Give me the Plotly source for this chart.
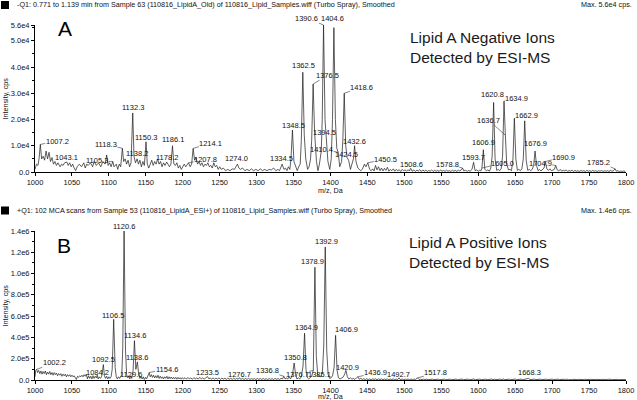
import plotly.graph_objects as go

# ---------------- DATA ----------------
# Panel A (negative ions): profile points (m/z, intensity in 1e4 cps)
a_profile = [
(1000,0.1),(1002,0.3),(1004,0.25),(1005.5,0.5),(1007.2,1.05),(1009,0.5),(1011,0.6),(1013,0.45),(1015,0.8),(1017,0.5),
(1019,0.75),(1021,0.4),(1023,0.55),(1025,0.3),(1027,0.4),(1029,0.25),(1031,0.35),(1034,0.2),(1036,0.3),(1038,0.25),
(1040,0.35),(1043.1,0.38),(1045,0.25),(1047,0.35),(1049,0.2),(1051,0.3),(1053,0.15),(1055,0.05),(1057,0.2),(1060,0.3),
(1063,0.2),(1066,0.35),(1068,0.15),(1070,0.3),(1072,0.25),(1075,0.35),(1078,0.2),(1080,0.4),(1083,0.25),(1086,0.35),
(1089,0.2),(1092,0.4),(1095,0.3),(1097,0.65),(1099,0.25),(1101,0.35),(1103,0.2),(1105.3,0.4),(1107,0.2),(1110,0.3),
(1112,0.1),(1114,0.3),(1116,0.2),(1118.3,0.9),(1120,0.4),(1122,0.5),(1124,0.3),(1126,0.45),(1128,0.2),(1130,0.35),
(1132.3,2.25),(1134,0.6),(1136,0.35),(1138.2,0.5),(1140,0.3),(1142,0.45),(1144,0.2),(1146,0.4),(1148,0.25),(1150.3,1.15),
(1152,0.3),(1154,0.15),(1156,0.3),(1158,0.45),(1160,0.25),(1162,0.4),(1164,0.3),(1166,0.5),(1168,0.3),(1170,0.4),
(1172,0.2),(1174,0.35),(1176,0.25),(1178.2,0.38),(1180,0.3),(1182,0.2),(1184,0.3),(1186.1,1.0),(1188,0.3),(1190,0.25),
(1192,0.35),(1194,0.15),(1196,0.25),(1198,0.1),(1200,0.2),(1202,0.3),(1204,0.2),(1206,0.3),(1207.8,0.35),(1210,0.2),
(1212,0.3),(1214.1,0.9),(1216,0.45),(1218,0.55),(1220,0.3),(1222,0.4),(1224,0.25),(1226,0.35),(1228,0.2),(1230,0.3),
(1232,0.25),(1234,0.35),(1236,0.2),(1238,0.25),(1240,0.15),(1242,0.35),(1244,0.2),(1246,0.25),(1248,0.1),(1250,0.2),
(1252,0.1),(1255,0.15),(1258,0.05),(1261,0.1),(1264,0.05),(1267,0.12),(1270,0.1),(1272,0.2),(1274,0.3),(1276,0.15),
(1278,0.1),(1281,0.15),(1284,0.05),(1287,0.1),(1290,0.05),(1293,0.12),(1296,0.05),(1299,0.1),(1302,0.05),(1305,0.12),
(1308,0.05),(1311,0.1),(1314,0.05),(1317,0.1),(1320,0.08),(1323,0.15),(1326,0.05),(1329,0.1),(1331,0.05),(1334.5,0.3),
(1337,0.1),(1339,0.15),(1341,0.05),(1343,0.2),(1345,0.1),(1346.5,0.5),(1348.5,1.6),(1350.5,0.4),(1353,0.2),(1355,0.05),
(1357,0.2),(1359,0.3),(1360.5,1.2),(1362.5,3.8),(1364.5,1.4),(1366.5,0.5),(1369,0.1),(1371,0.2),(1373,0.5),(1374.5,1.2),
(1376.5,3.35),(1378.5,1.5),(1381,0.4),(1383,0.05),(1385,0.3),(1387.5,0.8),(1388.8,2.0),(1390.6,5.6),(1392.6,2.0),(1394.5,1.3),
(1396.5,0.4),(1399,0.1),(1401,0.5),(1402.7,2.0),(1404.6,5.5),(1406.6,2.0),(1408.5,0.9),(1410.4,0.75),(1412.5,0.2),(1415,0.4),
(1416.7,1.2),(1418.6,3.0),(1420.6,1.0),(1422.5,0.55),(1424.5,0.45),(1427,0.1),(1429.5,0.3),(1431,0.5),(1432.6,1.0),(1434.5,0.4),
(1437,0.15),(1439,0.1),(1441,0.05),(1443,0.1),(1446,0.3),(1448,0.2),(1450.5,0.35),(1453,0.1),(1455,0.05),(1457,0.12),
(1459,0.04),(1461,0.25),(1463,0.08),(1465,0.2),(1467,0.05),(1469,0.15),(1471,0.04),(1473,0.14),(1475,0.06),(1477,0.18),
(1479,0.03),(1481,0.1),(1483,0.05),(1485,0.12),(1487,0.03),(1489,0.1),(1491,0.04),(1493,0.09),(1495,0.02),(1497,0.1),
(1499,0.05),(1501,0.08),(1503,0.03),(1505,0.09),(1506.7,0.04),(1508.6,0.14),(1510.5,0.03),(1513,0.08),(1515,0.02),(1517,0.07),
(1519,0.04),(1521,0.09),(1523,0.02),(1525,0.08),(1527,0.03),(1529,0.07),(1531,0.02),(1533,0.06),(1535,0.03),(1537,0.08),
(1539,0.02),(1541,0.07),(1543,0.03),(1545,0.06),(1547,0.02),(1549,0.08),(1551,0.03),(1553,0.06),(1555,0.02),(1557,0.07),
(1559,0.03),(1561,0.05),(1563,0.02),(1565,0.07),(1567,0.03),(1569,0.06),(1571,0.02),(1573,0.07),(1575,0.04),(1577,0.08),
(1578.8,0.15),(1580.5,0.04),(1583,0.07),(1585,0.02),(1587,0.06),(1589,0.03),(1591.5,0.1),(1593.7,0.37),(1595.7,0.05),(1598,0.08),
(1600,0.03),(1602,0.07),(1603.5,0.04),(1605.0,0.15),(1606.9,0.85),(1608.9,0.1),(1611,0.05),(1613,0.08),(1615,0.03),(1617,0.15),
(1618.8,0.6),(1620.8,2.65),(1622.8,0.5),(1625,0.06),(1627,0.1),(1629,0.05),(1631,0.12),(1632.9,0.6),(1634.9,2.7),(1636.7,1.4),
(1638.5,0.3),(1641,0.08),(1643,0.1),(1645,0.05),(1647,0.5),(1648.9,2.05),(1650.9,0.5),(1653,0.06),(1655,0.1),(1657,0.05),
(1659,0.12),(1661,0.5),(1662.9,1.95),(1664.9,0.45),(1667,0.06),(1669,0.1),(1671,0.05),(1673,0.1),(1675,0.25),(1676.9,0.8),
(1678.9,0.25),(1681,0.05),(1683,0.1),(1685,0.04),(1687,0.08),(1689,0.15),(1690.9,0.4),(1692.9,0.12),(1695,0.06),(1697,0.12),
(1699,0.05),(1701,0.08),(1703,0.1),(1704.9,0.25),(1706.9,0.08),(1709,0.04),(1711,0.1),(1713,0.03),(1715,0.07),(1717,0.04),
(1719,0.08),(1721,0.02),(1723,0.06),(1725,0.03),(1727,0.07),(1729,0.02),(1731,0.06),(1733,0.03),(1735,0.05),(1737,0.02),
(1739,0.06),(1741,0.03),(1743,0.05),(1745,0.02),(1747,0.06),(1749,0.03),(1751,0.05),(1753,0.02),(1755,0.06),(1757,0.03),
(1759,0.05),(1761,0.02),(1763,0.05),(1765,0.03),(1767,0.06),(1769,0.02),(1771,0.05),(1773,0.03),(1775,0.05),(1777,0.02),
(1779,0.06),(1781,0.03),(1783,0.05),(1785.2,0.12),(1787,0.03),(1789,0.05),(1791,0.02),(1793,0.04),(1795,0.02),(1797,0.04),
(1799,0.02),
]

# Panel B (positive ions): profile points (m/z, intensity in 1e5 cps)
b_profile = [
(1000,0.3),(1001,0.9),(1002.2,1.0),(1003.5,0.7),(1005,0.9),(1006.5,0.6),(1008,0.85),(1009.5,0.55),(1011,0.8),(1012.5,0.6),
(1014,0.85),(1015.5,0.5),(1017,0.75),(1018.5,0.55),(1020,0.8),(1021.5,0.5),(1023,0.7),(1024.5,0.45),(1026,0.7),(1027.5,0.5),
(1029,0.65),(1030.5,0.4),(1032,0.6),(1033.5,0.45),(1035,0.6),(1036.5,0.35),(1038,0.55),(1039.5,0.4),(1041,0.55),(1042.5,0.3),
(1044,0.5),(1045.5,0.35),(1047,0.5),(1048.5,0.3),(1050,0.45),(1051.5,0.3),(1053,0.4),(1054.5,0.25),(1056,0.05),(1057.5,0.35),
(1059,0.25),(1060.5,0.4),(1062,0.3),(1063.5,0.45),(1065,0.3),(1066.5,0.5),(1068,0.35),(1069.5,0.55),(1071,0.1),(1072.5,0.4),
(1074,0.15),(1075.5,0.35),(1077,0.1),(1078.5,0.4),(1080,0.15),(1081.5,0.35),(1083,0.2),(1084.2,0.45),(1085.5,0.1),(1087,0.3),
(1088.5,0.15),(1090,0.3),(1091,0.6),(1092.5,1.45),(1094,0.4),(1095.5,0.15),(1097,0.35),(1098.5,0.1),(1100,0.3),(1101.5,0.15),
(1103,0.3),(1104.5,1.0),(1106.5,5.7),(1108.5,1.2),(1110,0.3),(1111.5,0.1),(1113,0.3),(1114.5,0.15),(1116,0.3),(1117.5,0.5),
(1118.8,3.0),(1120.6,14.0),(1122.5,2.8),(1124,0.5),(1125.5,0.2),(1127,0.35),(1128.3,0.1),(1129.6,0.4),(1131,0.15),(1132.8,0.9),
(1134.6,3.7),(1136.5,1.0),(1138.6,1.7),(1140.4,0.5),(1142,0.15),(1143.5,0.3),(1145,0.1),(1146.5,0.3),(1148,0.05),(1149.5,0.25),
(1151,0.1),(1152.5,0.4),(1154.6,0.7),(1156,0.3),(1157.5,0.5),(1159,0.25),(1160.5,0.45),(1162,0.2),(1163.5,0.4),(1165,0.2),
(1166.5,0.45),(1168,0.15),(1169.5,0.35),(1171,0.15),(1172.5,0.3),(1174,0.1),(1175.5,0.3),(1177,0.15),(1178.5,0.35),(1180,0.1),
(1181.5,0.3),(1183,0.12),(1184.5,0.28),(1186,0.1),(1187.5,0.25),(1189,0.1),(1190.5,0.25),(1192,0.08),(1193.5,0.25),(1195,0.1),
(1196.5,0.22),(1198,0.08),(1199.5,0.22),(1201,0.1),(1203,0.22),(1205,0.08),(1207,0.24),(1209,0.1),(1211,0.2),(1213,0.07),
(1215,0.22),(1217,0.1),(1219,0.2),(1221,0.08),(1223,0.25),(1225,0.1),(1227,0.2),(1229,0.08),(1231,0.22),(1233.5,0.32),
(1235.5,0.1),(1237,0.2),(1239,0.08),(1241,0.2),(1243,0.07),(1245,0.18),(1247,0.08),(1249,0.2),(1251,0.06),(1253,0.18),
(1255,0.08),(1257,0.16),(1259,0.06),(1261,0.18),(1263,0.07),(1265,0.16),(1267,0.05),(1269,0.17),(1271,0.06),(1273,0.15),
(1275,0.07),(1276.7,0.22),(1278.5,0.06),(1281,0.15),(1283,0.05),(1285,0.14),(1287,0.06),(1289,0.15),(1291,0.05),(1293,0.14),
(1295,0.06),(1297,0.13),(1299,0.05),(1301,0.14),(1303,0.06),(1305,0.13),(1307,0.05),(1309,0.14),(1311,0.06),(1313,0.12),
(1315,0.05),(1317,0.14),(1319,0.06),(1321,0.13),(1323,0.05),(1325,0.15),(1327,0.06),(1329,0.14),(1331,0.05),(1333,0.15),
(1335,0.1),(1336.8,0.35),(1338.5,0.1),(1340.5,0.2),(1342,0.08),(1344,0.3),(1346,0.1),(1348.5,0.5),(1350.8,1.6),(1352.7,0.5),
(1354.5,0.1),(1356.5,0.2),(1358.5,0.1),(1360.5,0.3),(1362.8,1.3),(1364.9,4.4),(1366.8,1.0),(1368.8,0.2),(1370.5,0.1),(1372.5,0.25),
(1374.5,0.35),(1376.7,0.9),(1378.9,10.6),(1380.8,2.2),(1382.8,0.4),(1385.1,0.35),(1387,0.3),(1389,0.7),(1390.9,3.2),(1392.9,12.5),
(1394.9,2.8),(1396.8,0.5),(1398.8,0.15),(1400.8,0.2),(1402.8,0.4),(1404.9,1.2),(1406.9,4.2),(1408.9,0.9),(1410.8,0.2),(1413,0.1),
(1415,0.15),(1416.8,0.25),(1418.9,0.5),(1420.9,0.9),(1422.8,0.3),(1424.8,0.1),(1427,0.2),(1429,0.08),(1431,0.15),(1433,0.06),
(1435,0.2),(1436.9,0.3),(1438.8,0.08),(1441,0.15),(1443,0.05),(1445,0.12),(1447,0.04),(1449,0.12),(1451,0.04),(1453,0.1),
(1455,0.03),(1457,0.11),(1459,0.05),(1461,0.12),(1463,0.03),(1465,0.1),(1467,0.04),(1469,0.11),(1471,0.03),(1473,0.09),
(1475,0.05),(1477,0.1),(1479,0.03),(1481,0.09),(1483,0.04),(1485,0.1),(1487,0.03),(1489,0.08),(1491,0.05),(1492.7,0.2),
(1494.5,0.04),(1497,0.09),(1499,0.03),(1501,0.08),(1503,0.04),(1505,0.09),(1507,0.03),(1509,0.08),(1511,0.04),(1513,0.09),
(1515,0.05),(1517.8,0.2),(1520,0.04),(1522,0.08),(1524,0.03),(1526,0.09),(1528,0.04),(1530,0.08),(1532,0.03),(1534,0.07),
(1536,0.04),(1538,0.08),(1540,0.03),(1542,0.07),(1544,0.04),(1546,0.08),(1548,0.03),(1550,0.07),(1552,0.04),(1554,0.08),
(1556,0.03),(1558,0.07),(1560,0.04),(1562,0.08),(1564,0.03),(1566,0.07),(1568,0.04),(1570,0.08),(1572,0.03),(1574,0.07),
(1576,0.04),(1578,0.09),(1580,0.03),(1582,0.07),(1584,0.04),(1586,0.08),(1588,0.03),(1590,0.07),(1592,0.04),(1594,0.09),
(1596,0.03),(1598,0.07),(1600,0.04),(1602,0.08),(1604,0.03),(1606,0.07),(1608,0.04),(1610,0.08),(1612,0.03),(1614,0.07),
(1616,0.04),(1618,0.09),(1620,0.03),(1622,0.08),(1624,0.04),(1626,0.07),(1628,0.03),(1630,0.08),(1632,0.04),(1634,0.09),
(1636,0.03),(1638,0.07),(1640,0.04),(1642,0.08),(1644,0.03),(1646,0.07),(1648,0.04),(1650,0.09),(1652,0.03),(1654,0.07),
(1656,0.04),(1658,0.08),(1660,0.03),(1662,0.07),(1664,0.04),(1666,0.08),(1668.3,0.15),(1670,0.04),(1672,0.07),(1674,0.03),
(1676,0.08),(1678,0.04),(1680,0.07),(1682,0.03),(1684,0.08),(1686,0.04),(1688,0.07),(1690,0.03),(1692,0.08),(1694,0.04),
(1696,0.07),(1698,0.03),(1700,0.08),(1702,0.04),(1704,0.07),(1706,0.03),(1708,0.08),(1710,0.04),(1712,0.07),(1714,0.03),
(1716,0.07),(1718,0.04),(1720,0.08),(1722,0.03),(1724,0.07),(1726,0.04),(1728,0.06),(1730,0.03),(1732,0.07),(1734,0.04),
(1736,0.06),(1738,0.03),(1740,0.07),(1742,0.04),(1744,0.06),(1746,0.03),(1748,0.07),(1750,0.04),(1752,0.06),(1754,0.03),
(1756,0.07),(1758,0.04),(1760,0.06),(1762,0.03),(1764,0.07),(1766,0.04),(1768,0.06),(1770,0.03),(1772,0.06),(1774,0.04),
(1776,0.07),(1778,0.03),(1780,0.06),(1782,0.04),(1784,0.06),(1786,0.03),(1788,0.06),(1790,0.04),(1792,0.05),(1794,0.03),
(1796,0.05),(1798,0.03),(1800,0.04),
]

# Labelled peaks (m/z and apex intensity, in panel units)
a_label_mz = [1007.2,1043.1,1105.3,1118.3,1132.3,1138.2,1150.3,1178.2,1186.1,1207.8,1214.1,1274.0,1334.5,1348.5,
              1362.5,1376.5,1390.6,1404.6,1418.6,1394.5,1410.4,1424.5,1432.6,1450.5,1508.6,1578.8,1593.7,1606.9,
              1605.0,1620.8,1634.9,1636.7,1662.9,1676.9,1690.9,1704.9,1785.2]
a_label_h = [1.05,0.38,0.4,0.9,2.25,0.5,1.15,0.38,1.0,0.35,0.9,0.3,0.3,1.6,
             3.8,3.35,5.6,5.5,3.0,1.3,0.75,0.45,1.0,0.35,0.14,0.15,0.37,0.85,
             0.15,2.65,2.7,1.4,1.95,0.8,0.4,0.25,0.12]
b_label_mz = [1002.2,1084.2,1092.5,1106.5,1120.6,1129.6,1134.6,1138.6,1154.6,1233.5,1276.7,1336.8,1350.8,1364.9,
              1376.7,1378.9,1385.1,1392.9,1406.9,1420.9,1436.9,1492.7,1517.8,1668.3]
b_label_h = [1.0,0.45,1.45,5.7,14.0,0.4,3.7,1.7,0.7,0.32,0.22,0.35,1.6,4.4,
             0.9,10.6,0.35,12.5,4.2,0.9,0.3,0.2,0.2,0.15]

x_ticks = list(range(1000, 1801, 50))
a_yticks = [0, 1e4, 2e4, 3e4, 4e4, 5e4, 5.6e4]
a_yticktext = ["0.0", "1.0e4", "2.0e4", "3.0e4", "4.0e4", "5.0e4", "5.6e4"]
b_yticks = [0, 2e5, 4e5, 6e5, 8e5, 1e6, 1.2e6, 1.4e6]
b_yticktext = ["0.0", "2.0e5", "4.0e5", "6.0e5", "8.0e5", "1.0e6", "1.2e6", "1.4e6"]

a_header = "-Q1: 0.771 to 1.139 min from Sample 63 (110816_LipidA_Old) of 110816_Lipid_Samples.wiff (Turbo Spray), Smoothed"
b_header = "+Q1: 102 MCA scans from Sample 53 (110816_LipidA_ESI+) of 110816_Lipid_Samples.wiff (Turbo Spray), Smoothed"
a_max = "Max. 5.6e4 cps."
b_max = "Max. 1.4e6 cps."
a_title = "Lipid A Negative Ions<br>Detected by ESI-MS"
b_title = "Lipid A Positive Ions<br>Detected by ESI-MS"

A_UNIT = 1e4
B_UNIT = 1e5
A_YMAX = 5.6e4
B_YMAX = 1.4e6

# ---------------- STYLE / LAYOUT ----------------
W, H = 637, 400
ML, MR = 35, 11
PW = W - ML - MR
FONT = "Liberation Sans, Arial, sans-serif"
INK = "#111111"

def px(xp):
    return (xp - ML) / PW

def py(yp):
    return (H - yp) / H

A_DOM = [py(172), py(25)]
B_DOM = [py(380), py(231)]

# label text positions (text-centre m/z, text-centre intensity in panel units, leader line?)
a_label_pos = {
    "1007.2": (1030, 1.18, True), "1043.1": (1043.3, 0.57, False), "1105.3": (1084, 0.42, True),
    "1118.3": (1096, 1.06, True), "1132.3": (1132.6, 2.47, False), "1138.2": (1138.7, 0.72, False),
    "1150.3": (1150.2, 1.33, False), "1178.2": (1178.6, 0.57, False), "1186.1": (1186.7, 1.22, False),
    "1207.8": (1231, 0.46, True), "1214.1": (1238, 1.1, True), "1274.0": (1273, 0.53, False),
    "1334.5": (1334, 0.53, False), "1348.5": (1350.5, 1.79, False), "1362.5": (1363, 4.07, False),
    "1376.5": (1396.5, 3.69, True), "1390.6": (1368, 5.86, True), "1404.6": (1403, 5.86, False),
    "1418.6": (1442.5, 3.23, True), "1394.5": (1392.4, 1.52, False), "1410.4": (1388, 0.87, True),
    "1424.5": (1422, 0.65, False), "1432.6": (1433, 1.18, False), "1450.5": (1475, 0.49, True),
    "1508.6": (1509, 0.3, False), "1578.8": (1558, 0.3, True), "1593.7": (1594, 0.57, False),
    "1606.9": (1607.6, 1.14, False), "1605.0": (1633, 0.34, True), "1620.8": (1619, 2.97, False),
    "1634.9": (1652, 2.81, True), "1636.7": (1614, 1.98, True), "1662.9": (1665, 2.17, False),
    "1676.9": (1678, 1.08, False), "1690.9": (1716, 0.57, True), "1704.9": (1684, 0.34, True),
    "1785.2": (1763, 0.38, True),
}
b_label_pos = {
    "1002.2": (1026, 1.6, True), "1084.2": (1085, 0.66, False), "1092.5": (1093, 1.88, False),
    "1106.5": (1105.5, 6.1, False), "1120.6": (1121, 14.4, False), "1129.6": (1130, 0.56, False),
    "1134.6": (1135, 4.14, False), "1138.6": (1138.7, 2.07, False), "1154.6": (1178, 1.03, True),
    "1233.5": (1234, 0.75, False), "1276.7": (1277, 0.56, False), "1336.8": (1314.6, 0.85, True),
    "1350.8": (1353, 2.16, False), "1364.9": (1367, 4.89, False), "1376.7": (1355, 0.56, True),
    "1378.9": (1376, 11.1, False), "1385.1": (1385, 0.56, False), "1392.9": (1394, 12.97, False),
    "1406.9": (1421, 4.79, False), "1420.9": (1423, 1.22, False), "1436.9": (1461, 0.66, True),
    "1492.7": (1492.5, 0.47, False), "1517.8": (1542.6, 0.66, True), "1668.3": (1670, 0.66, False),
}

fig = go.Figure()

line_style = dict(color="#1a1a1a", width=0.7)
fig.add_trace(go.Scatter(x=[p[0] for p in a_profile], y=[p[1] * A_UNIT for p in a_profile],
                         mode="lines", line=line_style, xaxis="x", yaxis="y", hoverinfo="skip"))
fig.add_trace(go.Scatter(x=[p[0] for p in b_profile], y=[p[1] * B_UNIT for p in b_profile],
                         mode="lines", line=line_style, xaxis="x2", yaxis="y2", hoverinfo="skip"))

lab_font = dict(family=FONT, size=7.5, color=INK)

def add_labels(mzs, hs, pos, unit, ymax, dom, xr, yr):
    for mz, h in zip(mzs, hs):
        txt = f"{mz:.1f}"
        tx, ty, leader = pos[txt]
        if leader:
            fig.add_annotation(x=mz, y=h * unit, ax=tx, ay=ty * unit, xref=xr, yref=yr,
                               axref=xr, ayref=yr, text=txt, showarrow=True, arrowhead=0,
                               arrowwidth=0.6, arrowcolor="#333", standoff=0, startstandoff=0,
                               font=lab_font, borderpad=0)
        else:
            # y given in paper units so labels above the axis top stay visible
            yp = dom[0] + (ty * unit / ymax) * (dom[1] - dom[0])
            fig.add_annotation(x=tx, y=yp, xref=xr, yref="paper", text=txt, showarrow=False,
                               xanchor="center", yanchor="middle", font=lab_font, borderpad=0)

add_labels(a_label_mz, a_label_h, a_label_pos, A_UNIT, A_YMAX, A_DOM, "x", "y")
add_labels(b_label_mz, b_label_h, b_label_pos, B_UNIT, B_YMAX, B_DOM, "x2", "y2")

small = dict(family=FONT, size=7.2, color=INK)
# headers
for hdr, mx, ytxt in [(a_header, a_max, 5), (b_header, b_max, 210.5)]:
    fig.add_annotation(x=px(15), y=py(ytxt), xref="paper", yref="paper", text=hdr, showarrow=False,
                       xanchor="left", yanchor="middle", font=small)
    fig.add_annotation(x=px(634), y=py(ytxt), xref="paper", yref="paper", text=mx, showarrow=False,
                       xanchor="right", yanchor="middle", font=small)
    fig.add_shape(type="rect", xref="paper", yref="paper", x0=px(1), x1=px(9),
                  y0=py(ytxt + 4), y1=py(ytxt - 4), fillcolor="black", line=dict(width=0))

# panel letters and titles
for letter, lx, ly in [("A", 65, 28.5), ("B", 63.5, 245)]:
    fig.add_annotation(x=px(lx), y=py(ly), xref="paper", yref="paper", text=letter, showarrow=False,
                       xanchor="center", yanchor="middle", font=dict(family=FONT, size=21, color="black"))
for ttl, tx, ty in [(a_title, 408, 47.5), (b_title, 407, 252.5)]:
    fig.add_annotation(x=px(tx), y=py(ty), xref="paper", yref="paper", text=ttl, showarrow=False,
                       xanchor="left", yanchor="middle", align="left",
                       font=dict(family=FONT, size=15.5, color="#1a1a1a"))

# axis titles
for yc in [(25 + 172) / 2, (231 + 380) / 2]:
    fig.add_annotation(x=px(5), y=py(yc), xref="paper", yref="paper", text="Intensity, cps",
                       showarrow=False, textangle=-90, xanchor="center", yanchor="middle", font=small)
for yc in [190, 396]:
    fig.add_annotation(x=0.5, y=py(yc), xref="paper", yref="paper", text="m/z, Da",
                       showarrow=False, xanchor="center", yanchor="middle", font=small, borderpad=0)

xax = dict(range=[1000, 1800], tickvals=x_ticks, ticks="outside", ticklen=3, tickwidth=1,
           tickcolor="black", showline=True, linecolor="black", linewidth=1, showgrid=False,
           zeroline=False, tickfont=dict(family=FONT, size=7.5, color=INK), automargin=False)
yax = dict(ticks="outside", ticklen=3, tickwidth=1, tickcolor="black", showline=True,
           linecolor="black", linewidth=1, showgrid=False, zeroline=False,
           tickfont=dict(family=FONT, size=7.5, color=INK), automargin=False)

fig.update_layout(
    width=W, height=H, margin=dict(l=ML, r=MR, t=0, b=0, pad=0),
    paper_bgcolor="white", plot_bgcolor="white", showlegend=False,
    xaxis=dict(xax, anchor="y", domain=[0, 1]),
    yaxis=dict(yax, anchor="x", domain=A_DOM, range=[0, A_YMAX],
               tickvals=a_yticks, ticktext=a_yticktext,
               minor=dict(dtick=5000, ticklen=2, ticks="outside", tickcolor="black")),
    xaxis2=dict(xax, anchor="y2", domain=[0, 1]),
    yaxis2=dict(yax, anchor="x2", domain=B_DOM, range=[0, B_YMAX],
                tickvals=b_yticks, ticktext=b_yticktext,
                minor=dict(dtick=1e5, ticklen=2, ticks="outside", tickcolor="black")),
)

fig.write_html("out.html", config={"displayModeBar": False},
               post_script="document.body.style.margin='0';document.body.style.padding='0';")
